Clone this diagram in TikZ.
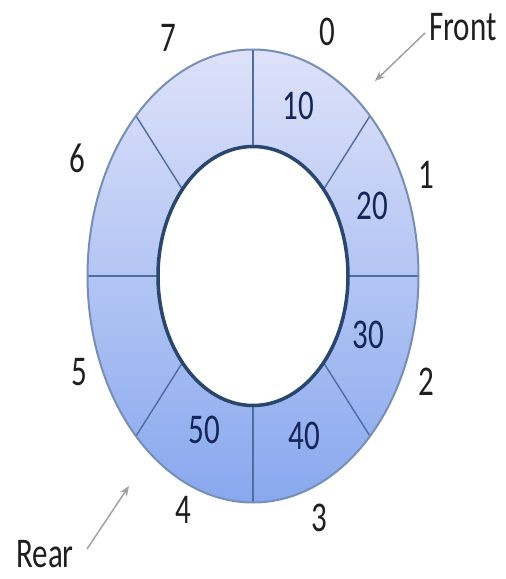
\documentclass[tikz,border=0pt]{standalone}
\usepackage{fontspec}
\usepackage{graphicx}
\setmainfont{Carlito}
\usetikzlibrary{arrows.meta}
\definecolor{topc}{RGB}{222,226,249}
\definecolor{botc}{RGB}{136,168,238}
\definecolor{rimc}{RGB}{120,142,180}
\definecolor{innc}{RGB}{40,70,110}
\definecolor{divc}{RGB}{78,108,160}
\definecolor{valc}{RGB}{20,38,88}
\newcommand{\tallt}[1]{\scalebox{1}[1.366]{#1}}
\begin{document}
\begin{tikzpicture}[x=1pt,y=-1pt,
  lbl/.style={inner sep=0pt, font=\fontsize{31}{31}\selectfont, text=black!88},
  val/.style={inner sep=0pt, font=\fontsize{31}{31}\selectfont, text=valc},
  divider/.style={draw=divc, line width=1.4pt},
  pointer/.style={draw=gray!75, line width=1.5pt, -{Stealth[length=10pt,width=8pt]}}]
\useasboundingbox (0,0) rectangle (506,579);
\coordinate (c) at (253,276);
% ring body
\shade[top color=topc, bottom color=botc] (c) ellipse [x radius=165.5, y radius=226.5];
\fill[white] (c) ellipse [x radius=95, y radius=129.5];
% divider end points
\coordinate (o0) at ([shift={(c)}]90:165.5 and 226.5);
\coordinate (i0) at ([shift={(c)}]90:95 and 129.5);
\coordinate (o1) at ([shift={(c)}]45:165.5 and 226.5);
\coordinate (i1) at ([shift={(c)}]42:95 and 129.5);
\coordinate (o2) at ([shift={(c)}]0:165.5 and 226.5);
\coordinate (i2) at ([shift={(c)}]0:95 and 129.5);
\coordinate (o3) at ([shift={(c)}]-45:165.5 and 226.5);
\coordinate (i3) at ([shift={(c)}]-42:95 and 129.5);
\coordinate (o4) at ([shift={(c)}]-90:165.5 and 226.5);
\coordinate (i4) at ([shift={(c)}]-90:95 and 129.5);
\coordinate (o5) at ([shift={(c)}]-135:165.5 and 226.5);
\coordinate (i5) at ([shift={(c)}]-138:95 and 129.5);
\coordinate (o6) at ([shift={(c)}]180:165.5 and 226.5);
\coordinate (i6) at ([shift={(c)}]180:95 and 129.5);
\coordinate (o7) at ([shift={(c)}]135:165.5 and 226.5);
\coordinate (i7) at ([shift={(c)}]138:95 and 129.5);
\foreach \k in {0,...,7} {\draw[divider] (o\k) -- (i\k);}
% outlines
\draw[rimc, line width=2pt] (c) ellipse [x radius=165.5, y radius=226.5];
\draw[innc, line width=3.5pt] (c) ellipse [x radius=95, y radius=129.5];
% index labels
\node[lbl] (l0) at (327,32) {\tallt{0}};
\node[lbl] (l1) at (426,175) {\tallt{1}};
\node[lbl] (l2) at (426,382) {\tallt{2}};
\node[lbl] (l3) at (319,518) {\tallt{3}};
\node[lbl] (l4) at (183,510) {\tallt{4}};
\node[lbl] (l5) at (79,372) {\tallt{5}};
\node[lbl] (l6) at (77,158) {\tallt{6}};
\node[lbl] (l7) at (168,38) {\tallt{7}};
% values
\node[val] (v10) at (298,106) {\tallt{10}};
\node[val] (v20) at (372,206) {\tallt{20}};
\node[val] (v30) at (368,335) {\tallt{30}};
\node[val] (v40) at (304,436) {\tallt{40}};
\node[val] (v50) at (204,430) {\tallt{50}};
% pointers
\node[lbl, anchor=west] (front) at (429,27) {\tallt{Front}};
\node[lbl] (rear) at (45,554) {\tallt{Rear}};
\coordinate (ftip) at (375,81);
\coordinate (fstart) at (425,33);
\coordinate (rtip) at (129,486);
\coordinate (rstart) at (87,549);
\draw[pointer] (fstart) -- (ftip);
\draw[pointer] (rstart) -- (rtip);
\end{tikzpicture}
\end{document}
